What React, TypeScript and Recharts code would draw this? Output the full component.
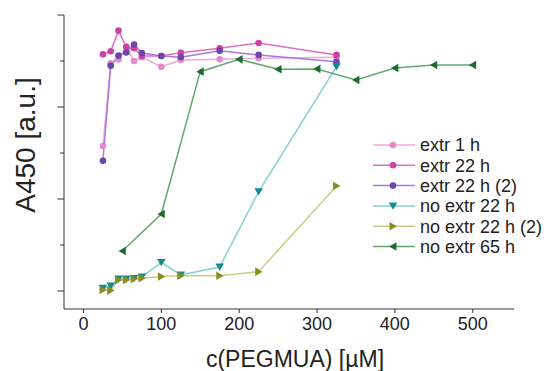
import React from 'react';
import { LineChart, Line, XAxis, YAxis } from 'recharts';

// concentrations [µM]
const concExtr = [25, 35, 45, 55, 65, 75, 100, 125, 175, 225, 325];
const conc65 = [50, 100, 150, 200, 250, 300, 350, 400, 450, 500];

// A450 values
const extr1h = [0.788, 1.238, 1.259, 1.328, 1.25, 1.27, 1.219, 1.255, 1.259, 1.265, 1.27];
const extr22h = [1.286, 1.303, 1.415, 1.326, 1.319, 1.277, 1.277, 1.295, 1.319, 1.348, 1.283];
const extr22h2 = [0.708, 1.224, 1.279, 1.296, 1.339, 1.293, 1.277, 1.27, 1.306, 1.283, 1.246];
const noExtr22h = [0.015, 0.027, 0.065, 0.065, 0.068, 0.076, 0.155, 0.087, 0.13, 0.54, 1.219];
const noExtr22h2 = [0.005, 0.002, 0.06, 0.06, 0.065, 0.069, 0.078, 0.083, 0.083, 0.105, 0.571];
const noExtr65h = [0.217, 0.418, 1.192, 1.259, 1.205, 1.207, 1.147, 1.212, 1.228, 1.228];

const xTicks = [0, 100, 200, 300, 400, 500];
const yTicks = [0, 0.25, 0.5, 0.75, 1, 1.25, 1.5];
const yMajor = [0, 0.5, 1, 1.5];

type Shape = 'circle' | 'down' | 'right' | 'left';

const seriesList = [
  { name: 'extr 1 h', xs: concExtr, ys: extr1h, line: '#efa9d9', mark: '#e48ccb', shape: 'circle' as Shape },
  { name: 'extr 22 h', xs: concExtr, ys: extr22h, line: '#dc70c4', mark: '#c944a6', shape: 'circle' as Shape },
  { name: 'extr 22 h (2)', xs: concExtr, ys: extr22h2, line: '#a879d8', mark: '#6c45ad', shape: 'circle' as Shape },
  { name: 'no extr 22 h', xs: concExtr, ys: noExtr22h, line: '#82d0d4', mark: '#168a8c', shape: 'down' as Shape },
  { name: 'no extr 22 h (2)', xs: concExtr, ys: noExtr22h2, line: '#cccc84', mark: '#8c8c1f', shape: 'right' as Shape },
  { name: 'no extr 65 h', xs: conc65, ys: noExtr65h, line: '#62aa6c', mark: '#1c6c2e', shape: 'left' as Shape },
];

const FONT = 'Liberation Sans, Arial, sans-serif';

function Marker({ cx, cy, shape, fill }: { cx: number; cy: number; shape: Shape; fill: string }) {
  if (cx == null || cy == null) return null;
  const s = 4.3;
  if (shape === 'circle') return <circle cx={cx} cy={cy} r={3.3} fill={fill} />;
  let pts = '';
  if (shape === 'down') pts = `${cx - s},${cy - s * 0.8} ${cx + s},${cy - s * 0.8} ${cx},${cy + s * 0.9}`;
  if (shape === 'right') pts = `${cx - s * 0.8},${cy - s} ${cx - s * 0.8},${cy + s} ${cx + s * 0.9},${cy}`;
  if (shape === 'left') pts = `${cx + s * 0.8},${cy - s} ${cx + s * 0.8},${cy + s} ${cx - s * 0.9},${cy}`;
  return <polygon points={pts} fill={fill} />;
}

function YTick(props: any) {
  const { x, y, payload } = props;
  const major = yMajor.includes(payload.value);
  const len = major ? 6.5 : 4;
  return <line x1={x} x2={x - len} y1={y} y2={y} stroke="#333" strokeWidth={1} />;
}

function LegendBox() {
  return (
    <svg width={175} height={130} style={{ position: 'absolute', left: 372, top: 135, overflow: 'visible' }}>
      {seriesList.map((s, i) => {
        const y = 10 + i * 20.3;
        return (
          <g key={s.name}>
            <line x1={1} x2={43} y1={y} y2={y} stroke={s.line} strokeWidth={1.5} />
            <Marker cx={21} cy={y} shape={s.shape} fill={s.mark} />
            <text x={48} y={y} dy="0.35em" fontSize={18} fontFamily={FONT} fill="#222">
              {s.name}
            </text>
          </g>
        );
      })}
    </svg>
  );
}

export default function App() {
  return (
    <div style={{ position: 'absolute', left: 0, top: 0, width: 544, height: 371, background: '#fff' }}>
      <LineChart width={544} height={371} margin={{ top: 15, right: 30, bottom: 0, left: 0 }}>
        <XAxis
          type="number"
          dataKey="x"
          domain={[-25, 553]}
          ticks={xTicks}
          allowDataOverflow
          stroke="#333"
          tickSize={4}
          tickMargin={4}
          height={62}
          tick={{ fontSize: 18, fontFamily: FONT, fill: '#222' }}
          label={{ value: 'c(PEGMUA) [µM]', position: 'insideBottom', offset: 4, dx: 6, fontSize: 23, fontFamily: FONT, fill: '#222' }}
        />
        <YAxis
          type="number"
          dataKey="y"
          domain={[-0.098, 1.5]}
          ticks={yTicks}
          allowDataOverflow
          width={64}
          stroke="#333"
          tickSize={0}
          tickMargin={0}
          tickLine={false}
          tick={<YTick />}
          label={{ value: 'A450 [a.u.]', angle: -90, position: 'insideLeft', offset: 25, dy: -17, fontSize: 28, fontFamily: FONT, fill: '#222', style: { textAnchor: 'middle' } }}
        />
        {seriesList.map((s) => (
          <Line
            key={s.name}
            name={s.name}
            data={s.xs.map((x, i) => ({ x, y: s.ys[i] }))}
            dataKey="y"
            stroke={s.line}
            strokeWidth={1.5}
            isAnimationActive={false}
            dot={(p: any) => <Marker key={`${s.name}-${p.index}`} cx={p.cx} cy={p.cy} shape={s.shape} fill={s.mark} />}
            activeDot={false}
          />
        ))}
      </LineChart>
      <LegendBox />
    </div>
  );
}
